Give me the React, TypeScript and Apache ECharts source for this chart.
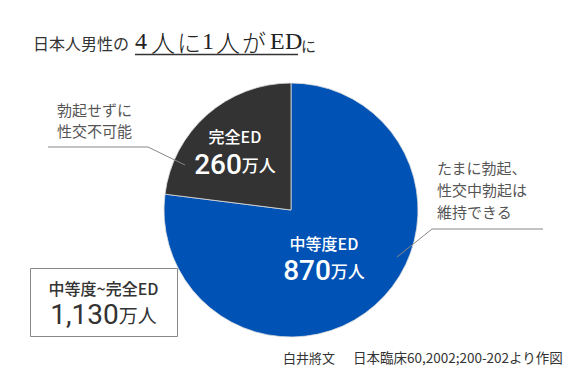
import React, { useEffect, useRef } from "react";
import * as echarts from "echarts";

// ---- data ----
const categories = ["中等度ED", "完全ED"];
const values = [870, 260];
const unit = "万人";
const totalLabel = "中等度~完全ED";
const titleLead = "日本人男性の";
const titleEmph = ["4", "人", "に", "1", "人", "が", "E", "D"];
const titleTail = "に";
const noteLeft = ["勃起せずに", "性交不可能"];
const noteRight = ["たまに勃起、", "性交中勃起は", "維持できる"];
const sourceAuthor = "白井將文";
const sourceRef = "日本臨床60,2002;200-202より作図";

const colors = ["#0052b4", "#333333"];
const JP = "Noto Sans CJK JP";
const NUM = "Roboto";
const SERIF = "Liberation Serif";

function txt(text: string, x: number, y: number, size: number, family: string, extra: any = {}) {
  return {
    type: "text",
    x,
    y,
    style: {
      text,
      fontSize: size,
      fontFamily: family,
      fontWeight: "normal",
      fill: "#333",
      verticalAlign: "middle",
      ...extra,
    },
  };
}

export default function App() {
  const ref = useRef<HTMLDivElement>(null);
  useEffect(() => {
    document.body.style.margin = "0";
    const chart = echarts.init(ref.current!, null, { renderer: "svg" });
    const total = values.reduce((a, b) => a + b, 0);
    const emphX = [135, 151, 177, 202, 216, 242, 270, 285];
    const dxy = [
      [-11, -2],
      [-12, -9],
    ];
    const graphic: any[] = [
      txt(titleLead, 33, 43, 16, JP, { fill: "#333" }),
      ...titleEmph.map((c, i) =>
        txt(c, emphX[i], 41, 24, /[0-9A-Z]/.test(c) ? SERIF : JP, {
          fill: "#222",
          fontWeight: /[0-9A-Z]/.test(c) ? "normal" : 300,
        })
      ),
      txt(titleTail, 301, 45, 15, JP),
      {
        type: "line",
        shape: { x1: 135, y1: 54.5, x2: 298, y2: 54.5 },
        style: { stroke: "#333", lineWidth: 1.5 },
      },
      ...noteLeft.map((t, i) => txt(t, 57, 109 + i * 21, 15, JP, { fill: "#555" })),
      ...noteRight.map((t, i) => txt(t, 437, 167 + i * 22, 15, JP, { fill: "#555" })),
      {
        type: "polyline",
        shape: { points: [[48, 147], [148, 147], [185, 165]] },
        style: { stroke: "#888", lineWidth: 1, fill: "none" },
        z: 10,
      },
      {
        type: "polyline",
        shape: { points: [[543, 229], [432, 229], [397, 257]] },
        style: { stroke: "#888", lineWidth: 1, fill: "none" },
        z: 10,
      },
      {
        type: "rect",
        shape: { x: 30.5, y: 268.5, width: 147, height: 68 },
        style: { stroke: "#888", lineWidth: 1, fill: "#fff" },
      },
      txt(totalLabel, 103.5, 288, 16, JP, { align: "center", fontWeight: 500 }),
      {
        type: "text",
        x: 103.5,
        y: 314,
        style: {
          text: `{n|${total.toLocaleString("en-US")}}{u|${unit}}`,
          align: "center",
          verticalAlign: "middle",
          rich: {
            n: { fontSize: 28, fontFamily: NUM, fill: "#333" },
            u: { fontSize: 19, fontFamily: JP, fill: "#333" },
          },
        },
      },
      txt(sourceAuthor, 283, 357, 13, JP),
      txt(sourceRef, 353, 357, 13.5, JP),
    ];

    chart.setOption({
      animation: false,
      backgroundColor: "#fff",
      graphic,
      series: [
        {
          type: "pie",
          center: [291, 210],
          radius: 127,
          startAngle: 90,
          clockwise: true,
          silent: true,
          itemStyle: { borderColor: "#ddd", borderWidth: 0.8 },
          data: categories.map((name, i) => ({
            name,
            value: values[i],
            itemStyle: { color: colors[i] },
          })),
          label: {
            show: true,
            position: "inside",
            formatter: (p: any) => `{a|${p.name}}\n{b|${p.value}}{c|${unit}}`,
            rich: {
              a: { fontFamily: JP, fontSize: 16, fontWeight: 500, color: "#fff", lineHeight: 26, align: "center" },
              b: { fontFamily: NUM, fontSize: 28, fontWeight: 500, color: "#fff", lineHeight: 30 },
              c: { fontFamily: JP, fontSize: 17, fontWeight: 500, color: "#fff", lineHeight: 30 },
            },
          },
          labelLine: { show: false },
          labelLayout: (p: any) => ({ dx: dxy[p.dataIndex][0], dy: dxy[p.dataIndex][1] }),
        },
      ],
    });
    return () => chart.dispose();
  }, []);
  return <div ref={ref} style={{ width: 580, height: 380 }} />;
}
